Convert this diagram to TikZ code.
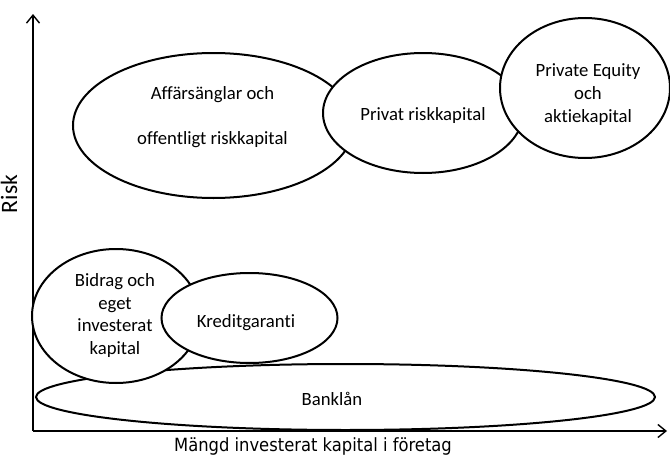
\documentclass[tikz,border=0pt]{standalone}
\usepackage{fontspec}
\setmainfont{Carlito}[Ligatures={NoCommon}]
\newfontfamily\axfont{DejaVu Sans Condensed}
\usetikzlibrary{arrows.meta,shapes.geometric}
\tikzset{
  blob/.style={ellipse, draw, line width=2pt, fill=white, inner sep=0pt},
  lbl/.style={align=center, inner sep=0pt, yshift=-2.5pt, font=\fontsize{18.7}{22.8}\selectfont},
  axis/.style={line width=1.4pt, -{Straight Barb[length=8pt,width=13pt,line width=1.4pt]}},
}
\begin{document}
\begin{tikzpicture}[x=1pt,y=-1pt]
\useasboundingbox[fill=white] (0,0) rectangle (670,455);
% axes
\coordinate (o) at (33,431);
\coordinate (ytip) at (33,14);
\coordinate (xtip) at (667,431);
\draw[axis] (o) -- (ytip);
\draw[axis] (o) -- (xtip);
\node[rotate=90, inner sep=0pt, font=\fontsize{23.5}{26}\selectfont] (risk) at (9,194) {Risk};
\node[inner sep=0pt, anchor=base, font=\axfont\fontsize{18.2}{21}\selectfont] (xlab) at (313,451) {Mängd investerat kapital i företag};
% bottom group
\node[blob, minimum width=619pt, minimum height=66pt] (bank) at (345.5,397) {};
\node[lbl] (bankt) at (332,396) {Banklån};
\node[blob, minimum width=168pt, minimum height=134pt] (bidr) at (116,316) {};
\node[lbl] (bidrt) at (115,313) {Bidrag och\\eget\\investerat\\kapital};
\node[blob, minimum width=176pt, minimum height=90pt] (kred) at (249.5,318) {};
\node[lbl] (kredt) at (246,320) {Kreditgaranti};
% top group
\node[blob, minimum width=281pt, minimum height=145pt] (aff) at (213.5,125.5) {};
\node[lbl] (afft) at (212.5,114.5) {Affärsänglar och\\[22pt]offentligt riskkapital};
\node[blob, minimum width=200pt, minimum height=120pt] (priv) at (423,113) {};
\node[lbl] (privt) at (423,113) {Privat riskkapital};
\node[blob, minimum width=170pt, minimum height=140pt] (pe) at (585,88) {};
\node[lbl] (pet) at (588,92) {Private Equity\\och\\aktiekapital};
\end{tikzpicture}
\end{document}
